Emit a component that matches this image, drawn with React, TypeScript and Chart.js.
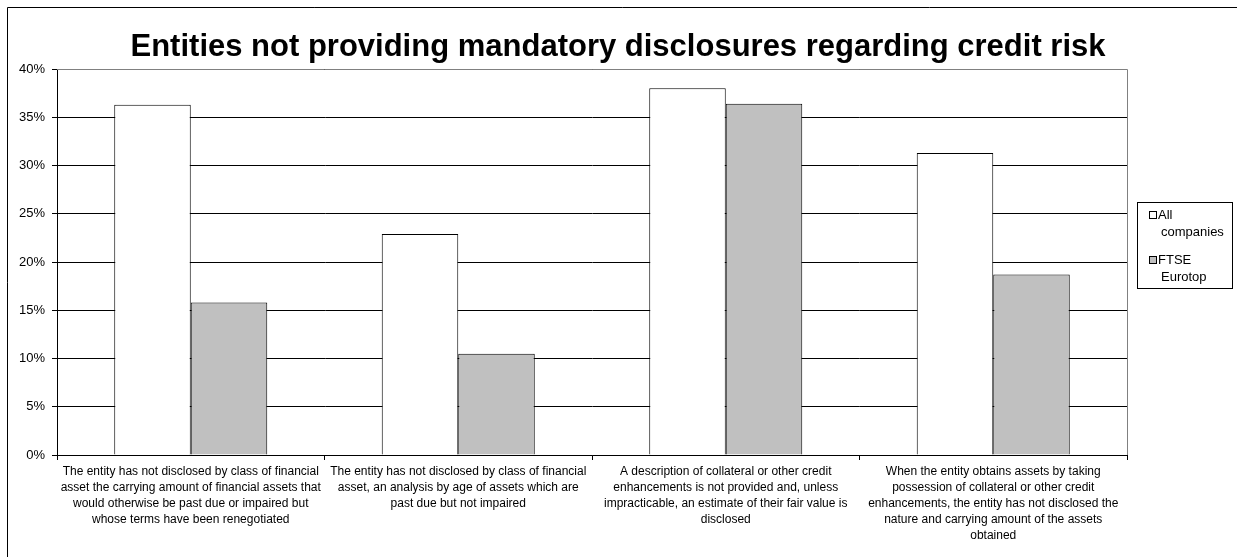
import React, { useEffect, useRef } from "react";
import { Chart, registerables } from "chart.js";

Chart.register(...registerables);

const titleText = "Entities not providing mandatory disclosures regarding credit risk";

const categories: string[][] = [
  [
    "The entity has not disclosed by class of financial",
    "asset the carrying amount of financial assets that",
    "would otherwise be past due or impaired but",
    "whose terms have been renegotiated",
  ],
  [
    "The entity has not disclosed by class of financial",
    "asset, an analysis by age of assets which are",
    "past due but not impaired",
  ],
  [
    "A description of collateral or other credit",
    "enhancements is not provided and, unless",
    "impracticable, an estimate of their fair value is",
    "disclosed",
  ],
  [
    "When the entity obtains assets by taking",
    "possession of collateral or other credit",
    "enhancements, the entity has not disclosed the",
    "nature and carrying amount of the assets",
    "obtained",
  ],
];

const seriesNames: string[][] = [["All", "companies"], ["FTSE", "Eurotop"]];
const allCompanies: number[] = [36.3, 22.9, 38.0, 31.3];
const ftseEurotop: number[] = [15.8, 10.5, 36.4, 18.7];

const yTicks: number[] = [0, 5, 10, 15, 20, 25, 30, 35, 40];

const FONT = "Arial, 'Liberation Sans', sans-serif";

const framePlugin = {
  id: "framePlugin",
  afterDraw(chart: any) {
    const ctx = chart.ctx;
    const a = chart.chartArea;
    ctx.save();
    // title
    ctx.fillStyle = "#000";
    ctx.font = `bold 31px ${FONT}`;
    ctx.textAlign = "center";
    ctx.textBaseline = "middle";
    ctx.fillText(titleText, 618, 47);

    // plot area top/right border (gray)
    ctx.strokeStyle = "#808080";
    ctx.lineWidth = 1;
    ctx.beginPath();
    ctx.moveTo(a.left, Math.round(a.top) + 0.5);
    ctx.lineTo(Math.round(a.right) + 0.5, Math.round(a.top) + 0.5);
    ctx.lineTo(Math.round(a.right) + 0.5, a.bottom);
    ctx.stroke();
    // outer frame (top and left)
    ctx.strokeStyle = "#000";
    ctx.beginPath();
    ctx.moveTo(1237, 7.5);
    ctx.lineTo(7.5, 7.5);
    ctx.lineTo(7.5, 557);
    ctx.stroke();

    // legend
    const bx = 1137.5, by = 202.5, bw = 95, bh = 86;
    ctx.strokeStyle = "#000";
    ctx.strokeRect(bx, by, bw, bh);
    ctx.font = `13px ${FONT}`;
    ctx.textBaseline = "middle";
    ctx.textAlign = "left";
    const ds = chart.data.datasets;
    const rows = [215, 260];
    ds.forEach((d: any, i: number) => {
      const y = rows[i];
      ctx.fillStyle = d.backgroundColor;
      ctx.fillRect(1149, y - 4, 8, 8);
      ctx.strokeStyle = "#000";
      ctx.strokeRect(1149.5, y - 3.5, 7, 7);
      ctx.fillStyle = "#000";
      const lines = seriesNames[i];
      ctx.fillText(lines[0], 1158, y);
      ctx.fillText(lines[1], 1161, y + 17.5);
    });
    ctx.restore();
  },
};

export default function App() {
  const ref = useRef<HTMLCanvasElement | null>(null);

  useEffect(() => {
    if (!ref.current) return;
    const chart = new Chart(ref.current, {
      type: "bar",
      data: {
        labels: categories,
        datasets: [
          {
            label: seriesNames[0].join(" "),
            data: allCompanies,
            backgroundColor: "#FFFFFF",
            borderColor: "#000000",
            borderWidth: 1,
            categoryPercentage: 0.572,
            barPercentage: 1.0,
          },
          {
            label: seriesNames[1].join(" "),
            data: ftseEurotop,
            backgroundColor: "#C0C0C0",
            borderColor: "#000000",
            borderWidth: 1,
            categoryPercentage: 0.572,
            barPercentage: 1.0,
          },
        ],
      },
      options: {
        responsive: false,
        animation: false,
        layout: { padding: { left: 0, right: 110, top: 69, bottom: 0 } },
        plugins: {
          legend: { display: false },
          tooltip: { enabled: false },
          title: { display: false },
        },
        scales: {
          x: {
            grid: {
              display: true,
              drawOnChartArea: false,
              drawTicks: true,
              tickLength: 5,
              color: "#000",
              offset: true,
            },
            border: { display: true, color: "#000", width: 1 },
            ticks: {
              color: "#000",
              maxRotation: 0,
              minRotation: 0,
              autoSkip: false,
              padding: 4,
              font: { family: FONT, size: 12, lineHeight: 16 / 12 },
            },
            afterFit(scale: any) {
              scale.height = 102;
            },
          },
          y: {
            min: 0,
            max: 40,
            afterBuildTicks(scale: any) {
              scale.ticks = yTicks.map((v) => ({ value: v }));
            },
            grid: {
              color: "#000",
              lineWidth: 1,
              drawTicks: true,
              tickLength: 5,
            },
            border: { display: true, color: "#000", width: 1 },
            ticks: {
              color: "#000",
              padding: 7,
              font: { family: FONT, size: 13 },
              callback: (v: any) => `${v}%`,
            },
            afterFit(scale: any) {
              scale.width = 57;
            },
          },
        },
      },
      plugins: [framePlugin],
    });
    return () => chart.destroy();
  }, []);

  return (
    <div style={{ position: "fixed", left: 0, top: 0, width: 1237, height: 557, background: "#fff" }}>
      <canvas ref={ref} width={1237} height={557} style={{ display: "block" }} />
    </div>
  );
}
